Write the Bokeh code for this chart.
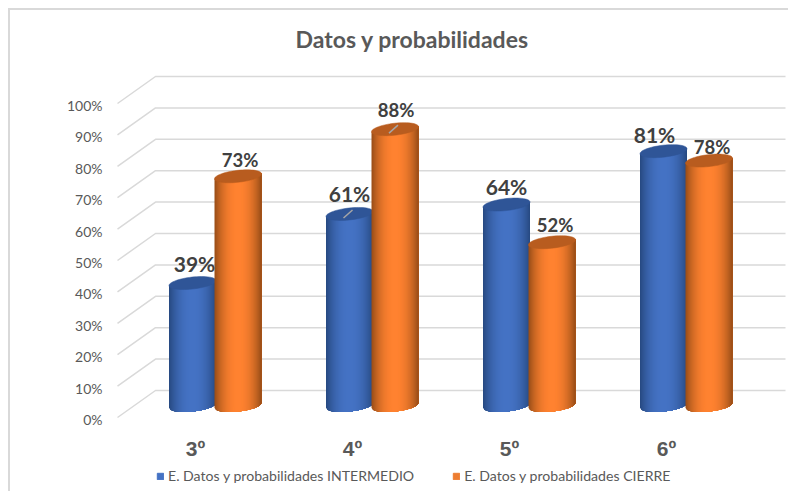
from bokeh.plotting import figure
from bokeh.models import Range1d, FixedTicker, PrintfTickFormatter, Legend, LegendItem, Title, LinearAxis
from bokeh.embed import file_html
from bokeh.resources import INLINE
from bokeh.core.properties import value
import numpy as np

title_text = "Datos y probabilidades"
categories = ["3º", "4º", "5º", "6º"]
series_names = ["E. Datos y probabilidades INTERMEDIO", "E. Datos y probabilidades CIERRE"]
intermedio = [39, 61, 64, 81]
cierre = [73, 88, 52, 78]
y_ticks = list(range(0, 101, 10))

# scale geometry (reference pixels)
CAT0, CAT_STEP = 195.0, 157.0
K = 3.14
LEFT, RIGHT, TOP, BOTTOM = 112, 790, 60, 485
AXIS_Y = 425
Y0 = 417.0
DEPTH = 12 / K
HW = 23.5 / CAT_STEP
CAP = 6 / K
TILT = 2.5 / K

p = figure(width=780, height=483, frame_width=RIGHT - LEFT, frame_height=BOTTOM - TOP,
           min_border_left=LEFT - 10, min_border_top=TOP - 10, min_border_right=0, min_border_bottom=8,
           output_backend="svg", toolbar_location=None, y_axis_location=None,
           x_range=Range1d((LEFT - CAT0) / CAT_STEP, (RIGHT - CAT0) / CAT_STEP),
           y_range=Range1d((Y0 - BOTTOM) / K, (Y0 - TOP) / K))
p.margin = (10, 0, 0, 10)
p.styles = {"box-shadow": "-2px -2px 0 0 #D9D9D9"}
p.outline_line_color = None
p.grid.visible = False
p.background_fill_color = "white"
p.border_fill_color = "white"

p.title = Title(text=title_text, align="left", offset=183, text_font="Lato", text_font_size="23px",
                text_font_style="bold", text_color="#595959", standoff=15)

# value axis: its labels sit 2px lower than the walls' lines
LABEL_SHIFT = 2
p.extra_y_ranges = {"labels": Range1d((Y0 + LABEL_SHIFT - BOTTOM) / K, (Y0 + LABEL_SHIFT - TOP) / K)}
ya = LinearAxis(y_range_name="labels")
p.add_layout(ya, "left")
xa = p.xaxis[0]
xa.fixed_location = (Y0 - AXIS_Y) / K
ya.ticker = FixedTicker(ticks=y_ticks)
ya.formatter = PrintfTickFormatter(format="%d%%")
ya.axis_line_color = None
ya.major_tick_line_color = None
ya.minor_tick_line_color = None
ya.major_label_text_font = "Lato"
ya.major_label_text_font_size = "14px"
ya.major_label_text_color = "#595959"
ya.major_label_standoff = 4

xa.ticker = FixedTicker(ticks=list(range(len(categories))))
xa.major_label_overrides = {i: c for i, c in enumerate(categories)}
xa.axis_line_color = None
xa.major_tick_line_color = None
xa.minor_tick_line_color = None
xa.major_label_text_font = "Liberation Sans"
xa.major_label_text_font_size = "21px"
xa.major_label_text_font_style = "bold"
xa.major_label_text_color = "#595959"
xa.major_label_standoff = 5

# 3D walls
wall_dy = 27 / K
x_side0 = (117 - CAT0) / CAT_STEP
x_back0 = (155 - CAT0) / CAT_STEP
x_back1 = (785 - CAT0) / CAT_STEP
p.multi_line([[x_side0, x_back0, x_back1] for _ in y_ticks],
             [[t, t + wall_dy, t + wall_dy] for t in y_ticks],
             line_color="#D9D9D9", line_width=1.5)


def mix(c1, c2, f):
    return "#%02x%02x%02x" % tuple(int(round(a + (b - a) * f)) for a, b in zip(c1, c2))


def cylinder(cx, v, dark, mid, cap_color, n=47):
    base = DEPTH
    top = v + DEPTH
    ts = np.linspace(-1, 1, n + 1)
    xs, ys, cols = [], [], []
    for a in ts[:-1]:
        # each strip runs on to the right edge, so later strips paint over it with no seam
        tt = np.linspace(a, 1, max(3, int((1 - a) * 10) + 2))
        front = -CAP * np.sqrt(np.clip(1 - tt ** 2, 0, 1)) + TILT * tt
        xx = cx + HW * tt
        xs.append(list(xx) + list(xx[::-1]))
        ys.append(list(base + front) + list((top + TILT * tt)[::-1]))
        m = a + 1 / n
        cols.append(mix(mid, dark, min(1, abs(m) ** 2.2)))
    p.patches(xs, ys, fill_color=cols, line_color=None)
    tt = np.linspace(0, 2 * np.pi, 60)
    p.patch(cx + HW * np.cos(tt), top + TILT * np.cos(tt) + CAP * np.sin(tt),
            fill_color=cap_color, line_color=cap_color, line_width=0.5)


BLUE_DARK, BLUE_MID = (38, 72, 128), (68, 114, 196)
OR_DARK, OR_MID = (150, 76, 22), (255, 130, 48)
BLUE, ORANGE = "#4472C4", "#ED7D31"
dx_blue = -3 / CAT_STEP
dx_orange = 42.5 / CAT_STEP

for i, (a, b) in enumerate(zip(intermedio, cierre)):
    cylinder(i + dx_blue, a, BLUE_DARK, BLUE_MID, "#2F5597")
    cylinder(i + dx_orange, b, OR_DARK, OR_MID, "#B85C1F")

# leader lines for the two labels that sit away from their bars
for idx, vals, dx in [(1, intermedio, dx_blue), (1, cierre, dx_orange)]:
    xc = idx + dx
    yc = vals[idx] + DEPTH
    p.line([xc - 6 / CAT_STEP, xc + 3 / CAT_STEP], [yc - 4 / K, yc + 4 / K], line_color="#A6A6A6", line_width=1.5)

# data labels
xpos = list(np.arange(4) + dx_blue)
p.text(xpos, [v + DEPTH for v in intermedio], text=[f"{v}%" for v in intermedio],
       x_offset=[2, 0, 0, -9], y_offset=[-20, -20, -18, -17],
       text_align="center", text_baseline="middle", text_font=value("Lato"),
       text_font_size="21px", text_font_style="bold", text_color="#404040")
xpos2 = list(np.arange(4) + dx_orange)
p.text(xpos2, [v + DEPTH for v in cierre], text=[f"{v}%" for v in cierre],
       x_offset=[2, 1, 3, 3], y_offset=[-16, -19, -17, -14],
       text_align="center", text_baseline="middle", text_font=value("Lato"),
       text_font_size="18.5px", text_font_style="bold", text_color="#404040")

# legend: swatch-only renderers, with no-value geometry so that nothing shows in the plot
nan = [float("nan")]
r1 = p.quad(left=nan, right=nan, top=nan, bottom=nan, fill_color=BLUE, line_color=BLUE)
r2 = p.quad(left=nan, right=nan, top=nan, bottom=nan, fill_color=ORANGE, line_color=ORANGE)
legend = Legend(items=[LegendItem(label=series_names[0], renderers=[r1]),
                       LegendItem(label=series_names[1], renderers=[r2])],
                orientation="horizontal", location=(44, 1), border_line_color=None,
                background_fill_alpha=0, glyph_width=8, glyph_height=8, label_standoff=4,
                spacing=38, label_text_font="Lato", label_text_font_size="14.1px",
                label_text_color="#595959", margin=0, padding=0)
p.add_layout(legend, "center")

open("out.html", "w").write(file_html(p, INLINE))
